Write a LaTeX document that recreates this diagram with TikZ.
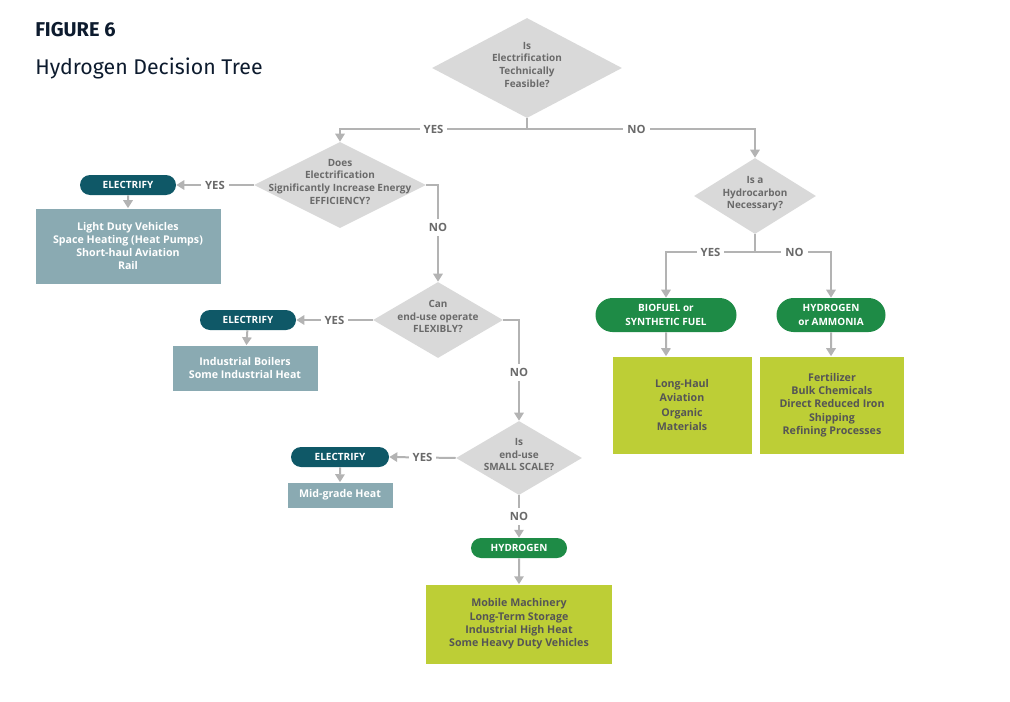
\documentclass[tikz,border=0pt]{standalone}
\usepackage{fontspec}
\setmainfont{Open Sans}
\newfontfamily\titlefont{Fira Sans}
\usetikzlibrary{shapes.geometric,shapes.misc,arrows.meta}

\definecolor{qgray}{HTML}{D9D9D9}
\definecolor{lgray}{HTML}{B3B3B3}
\definecolor{tgray}{HTML}{6A6A6A}
\definecolor{eteal}{HTML}{0F5867}
\definecolor{bteal}{HTML}{8AAAB2}
\definecolor{hgreen}{HTML}{1E8B46}
\definecolor{lime}{HTML}{BDCE36}
\definecolor{navy}{HTML}{0D1B2E}

\newcommand{\qtext}[1]{\makebox[0pt]{\smash{\begin{tabular}{@{}c@{}}#1\end{tabular}}}}

\tikzset{
  quest/.style={diamond, fill=qgray, inner sep=0pt, font=\fontsize{7.5}{9.5}\selectfont\bfseries, text=tgray},
  pill/.style={rounded rectangle, fill=#1, text=white, font=\fontsize{7.5}{10}\selectfont\bfseries, align=center, inner sep=0pt},
  tealbox/.style={fill=bteal, text=white, font=\fontsize{8}{10}\selectfont\bfseries, align=center, inner sep=0pt},
  limebox/.style={fill=lime, text=tgray!80!black, font=\fontsize{8}{10}\selectfont\bfseries, align=center, inner sep=0pt},
  arr/.style={draw=lgray, line width=1.5pt, -{Triangle[width=7pt,length=6pt]}},
  lbl/.style={fill=white, text=tgray, font=\fontsize{8.5}{10}\selectfont\bfseries, inner sep=3pt},
}

\begin{document}
\begin{tikzpicture}[x=0.0264cm, y=-0.0264cm]
    \useasboundingbox (0,0) rectangle (1010,702);
    \node[anchor=west, inner sep=0pt, text=navy, font=\titlefont\fontsize{15}{16}\selectfont\bfseries] (fig) at (35,30) {FIGURE 6};
    \node[anchor=west, inner sep=0pt, text=navy, font=\titlefont\fontsize{16}{18}\selectfont] (ttl) at (35,68) {Hydrogen Decision Tree};

    % questions
    \node[quest, minimum width=190*0.0264cm, minimum height=100*0.0264cm] (feasible) at (527,68) {\qtext{Is\\Electrification\\Technically\\Feasible?}};
    \node[quest, minimum width=172*0.0264cm, minimum height=86*0.0264cm] (efficiency) at (340,185) {\qtext{Does\\Electrification\\Significantly Increase Energy\\EFFICIENCY?}};
    \node[quest, minimum width=130*0.0264cm, minimum height=76*0.0264cm] (flexible) at (438,320) {\qtext{Can\\end-use operate\\FLEXIBLY?}};
    \node[quest, minimum width=126*0.0264cm, minimum height=74*0.0264cm] (small) at (519,458) {\qtext{Is\\end-use\\SMALL SCALE?}};
    \node[quest, minimum width=122*0.0264cm, minimum height=76*0.0264cm] (hydrocarbon) at (755,196) {\qtext{Is a\\Hydrocarbon\\Necessary?}};

    % outcomes
    \node[pill=eteal, minimum width=96*0.0264cm, minimum height=20*0.0264cm] (elec1) at (128,185) {ELECTRIFY};
    \node[pill=eteal, minimum width=96*0.0264cm, minimum height=20*0.0264cm] (elec2) at (248,320) {ELECTRIFY};
    \node[pill=eteal, minimum width=98*0.0264cm, minimum height=20*0.0264cm] (elec3) at (340,457) {ELECTRIFY};
    \node[pill=hgreen, minimum width=96*0.0264cm, minimum height=20*0.0264cm] (hyd) at (519,548) {HYDROGEN};
    \node[pill=hgreen, minimum width=141*0.0264cm, minimum height=34*0.0264cm] (biofuel) at (666,315) {BIOFUEL or\\SYNTHETIC FUEL};
    \node[pill=hgreen, minimum width=109*0.0264cm, minimum height=34*0.0264cm] (ammonia) at (831,315) {HYDROGEN\\or AMMONIA};

    % uses
    \node[tealbox, minimum width=185*0.0264cm, minimum height=75*0.0264cm] (uses1) at (128,246) {Light Duty Vehicles\\Space Heating (Heat Pumps)\\Short-haul Aviation\\Rail};
    \node[tealbox, minimum width=145*0.0264cm, minimum height=45*0.0264cm] (uses2) at (245,368) {Industrial Boilers\\Some Industrial Heat};
    \node[tealbox, minimum width=105*0.0264cm, minimum height=25*0.0264cm] (uses3) at (340,495) {Mid-grade Heat};
    \node[limebox, minimum width=186*0.0264cm, minimum height=79*0.0264cm] (uses4) at (519,624) {Mobile Machinery\\Long-Term Storage\\Industrial High Heat\\Some Heavy Duty Vehicles};
    \node[limebox, minimum width=139*0.0264cm, minimum height=97*0.0264cm] (uses5) at (682,405) {Long-Haul\\Aviation\\[2pt]Organic\\Materials};
    \node[limebox, minimum width=144*0.0264cm, minimum height=97*0.0264cm] (uses6) at (832,405) {Fertilizer\\Bulk Chemicals\\Direct Reduced Iron\\Shipping\\Refining Processes};

    \coordinate (split1) at (527,129);
    \coordinate (split2) at (755,252);

    \draw[arr] (feasible.south) -- (split1) -| node[lbl, pos=0.25] {YES} (efficiency.north);
    \draw[arr] (split1) -| node[lbl, pos=0.24] {NO} (hydrocarbon.north);
    \draw[arr] (efficiency.west) -- node[lbl] {YES} (elec1.east);
    \draw[arr] (efficiency.east) -| node[lbl, pos=0.72] {NO} (flexible.north);
    \draw[arr] (flexible.west) -- node[lbl] {YES} (elec2.east);
    \draw[arr] (flexible.east) -| node[lbl, pos=0.76] {NO} (small.north);
    \draw[arr] (small.west) -- node[lbl] {YES} (elec3.east);
    \draw[arr] (small.south) -- node[lbl] {NO} (hyd.north);
    \draw[arr] (hydrocarbon.south) -- (split2) -| node[lbl, pos=0.25] {YES} (biofuel.north);
    \draw[arr] (split2) -| node[lbl, pos=0.26] {NO} (ammonia.north);

    \draw[arr] (elec1) -- (uses1);
    \draw[arr] (elec2) -- (uses2);
    \draw[arr] (elec3) -- (uses3);
    \draw[arr] (hyd) -- (uses4);
    \draw[arr] (biofuel) -- (biofuel.south |- uses5.north);
    \draw[arr] (ammonia) -- (ammonia.south |- uses6.north);
\end{tikzpicture}
\end{document}
